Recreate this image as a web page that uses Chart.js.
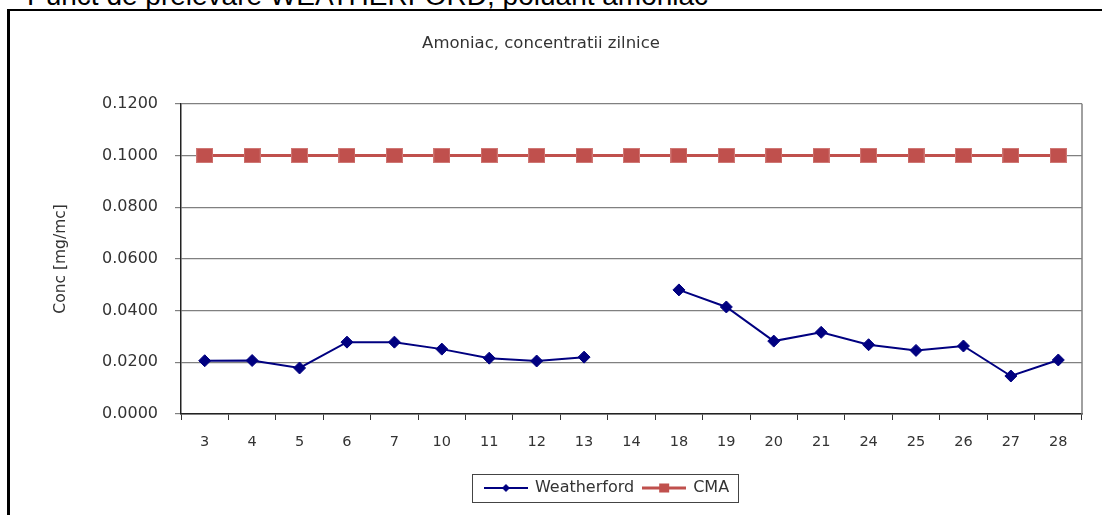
<!DOCTYPE html>
<html>
<head>
<meta charset="utf-8">
<script src="https://cdn.jsdelivr.net/npm/chart.js@4/dist/chart.umd.min.js"></script>
<style>
  html, body { margin: 0; padding: 0; background: #fff; overflow: hidden; }
  #wrap { position: relative; width: 1102px; height: 515px; overflow: hidden; }
  #frame { position: absolute; left: 7px; top: 9px; width: 1300px; height: 700px;
           border-left: 3px solid #000; border-top: 2px solid #000; box-sizing: border-box; }
  #toptext { position: absolute; left: 27px; top: -18px; font: 28px "Liberation Sans", Arial, sans-serif;
             line-height: 28px; color: #000; white-space: nowrap; }
  #c { position: absolute; left: 0; top: 0; }
</style>
</head>
<body>
<div id="wrap">
  <div id="toptext">Punct de prelevare WEATHERFORD, poluant amoniac</div>
  <div id="frame"></div>
  <canvas id="c" width="1102" height="515"></canvas>
</div>
<script>
// ---- data ----
const categories = ['3','4','5','6','7','10','11','12','13','14','18','19','20','21','24','25','26','27','28'];
const weatherford = [0.0206, 0.0207, 0.0178, 0.0278, 0.0278, 0.0251, 0.0216, 0.0205, 0.0220, null,
                     0.0480, 0.0414, 0.0282, 0.0316, 0.0268, 0.0246, 0.0263, 0.0147, 0.0209];
const cma = [0.1, 0.1, 0.1, 0.1, 0.1, 0.1, 0.1, 0.1, 0.1, 0.1, 0.1, 0.1, 0.1, 0.1, 0.1, 0.1, 0.1, 0.1, 0.1];
const yTicks = [0, 0.02, 0.04, 0.06, 0.08, 0.10, 0.12];
const seriesNames = ['Weatherford', 'CMA'];

const NAVY = '#000080';
const RED = '#C0504D';
const GRID = '#808080';
const TEXT = '#333333';
const FONT = '"DejaVu Sans", sans-serif';

function legendImg(color, lw, kind) {
  const c = document.createElement('canvas');
  c.width = 44; c.height = 16;
  const g = c.getContext('2d');
  g.strokeStyle = color; g.lineWidth = lw;
  g.beginPath(); g.moveTo(0, 8); g.lineTo(44, 8); g.stroke();
  g.fillStyle = color;
  if (kind === 'diamond') {
    g.beginPath(); g.moveTo(22 - 4, 8); g.lineTo(22, 4); g.lineTo(22 + 4, 8); g.lineTo(22, 12); g.closePath(); g.fill();
  } else {
    g.fillRect(22 - 5, 8 - 4.5, 10, 9);
  }
  return c;
}
const legendImgs = [legendImg(NAVY, 2, 'diamond'), legendImg(RED, 3, 'square')];

function squareImg() {
  const c = document.createElement('canvas');
  c.width = 17; c.height = 15;
  const g = c.getContext('2d');
  g.fillStyle = RED; g.fillRect(0, 0, 17, 15);
  g.strokeStyle = '#cf7774'; g.lineWidth = 1; g.strokeRect(0.5, 0.5, 16, 14);
  return c;
}
const cmaMarker = squareImg();

const decor = {
  id: 'decor',
  afterLayout(chart) {
    const lg = chart.legend;
    if (lg) { const dx = 66; lg.left += dx; lg.right += dx; }
  },
  afterDraw(chart) {
    const ctx = chart.ctx, a = chart.chartArea;
    ctx.save();
    ctx.strokeStyle = GRID; ctx.lineWidth = 1.5;
    ctx.beginPath(); ctx.moveTo(a.right, a.top); ctx.lineTo(a.right, a.bottom); ctx.stroke();
    const lg = chart.legend;
    if (lg && lg.legendHitBoxes && lg.legendHitBoxes.length) {
      const hb = lg.legendHitBoxes;
      const l = hb[0].left - 13;
      const last = hb[hb.length - 1];
      const r = last.left + last.width + 9;
      const cy = hb[0].top + hb[0].height / 2;
      ctx.strokeStyle = '#444'; ctx.lineWidth = 1;
      ctx.strokeRect(Math.round(l) + 0.5, Math.round(cy - 14) + 0.5, Math.round(r - l), 28);
    }
    ctx.restore();
  }
};

new Chart(document.getElementById('c'), {
  type: 'line',
  data: {
    labels: categories,
    datasets: [
      { label: seriesNames[0], data: weatherford, borderColor: NAVY, backgroundColor: NAVY,
        borderWidth: 2, pointStyle: 'rectRot', pointRadius: 6, pointBorderWidth: 1,
        pointBackgroundColor: NAVY, pointBorderColor: NAVY, spanGaps: false, tension: 0 },
      { label: seriesNames[1], data: cma, borderColor: RED, backgroundColor: RED,
        borderWidth: 3, pointStyle: cmaMarker, pointRadius: 9, pointBorderWidth: 0,
        pointBackgroundColor: RED, pointBorderColor: RED, tension: 0 }
    ]
  },
  options: {
    responsive: false, animation: false, devicePixelRatio: 1,
    layout: { padding: { left: 0, right: 20, top: 0, bottom: 9 } },
    plugins: {
      title: { display: true, text: 'Amoniac, concentratii zilnice', color: TEXT,
               font: { family: FONT, size: 16.5, weight: 'normal' }, padding: { top: 34, bottom: 50 } },
      legend: {
        position: 'bottom',
        labels: {
          color: TEXT, font: { family: FONT, size: 16 }, usePointStyle: true, pointStyleWidth: 42,
          padding: 9,
          generateLabels(chart) {
            const items = Chart.defaults.plugins.legend.labels.generateLabels(chart);
            items.forEach((it, i) => { it.pointStyle = legendImgs[i]; });
            return items;
          }
        }
      },
      tooltip: { enabled: false }
    },
    scales: {
      x: {
        offset: true,
        grid: { display: true, drawOnChartArea: false, drawTicks: true, tickLength: 6, color: '#333', offset: true },
        border: { display: true, color: '#222', width: 1.5 },
        ticks: { color: TEXT, font: { family: FONT, size: 14.5 }, padding: 14, maxRotation: 0, autoSkip: false },
        afterFit(s) { s.height = 57; }
      },
      y: {
        min: 0, max: 0.12,
        afterBuildTicks(s) { s.ticks = yTicks.map(v => ({ value: v })); },
        grid: { color: GRID, lineWidth: 1.2, tickLength: 6, tickColor: GRID },
        border: { display: true, color: '#222', width: 1.5 },
        ticks: { color: TEXT, font: { family: FONT, size: 16 }, padding: 17, callback: v => Number(v).toFixed(4) },
        title: { display: true, text: 'Conc [mg/mc]', color: TEXT, font: { family: FONT, size: 15.5 }, padding: { top: 52, bottom: 0 } },
        afterFit(s) { s.width = 181; }
      }
    }
  },
  plugins: [decor]
});
</script>
</body>
</html>
